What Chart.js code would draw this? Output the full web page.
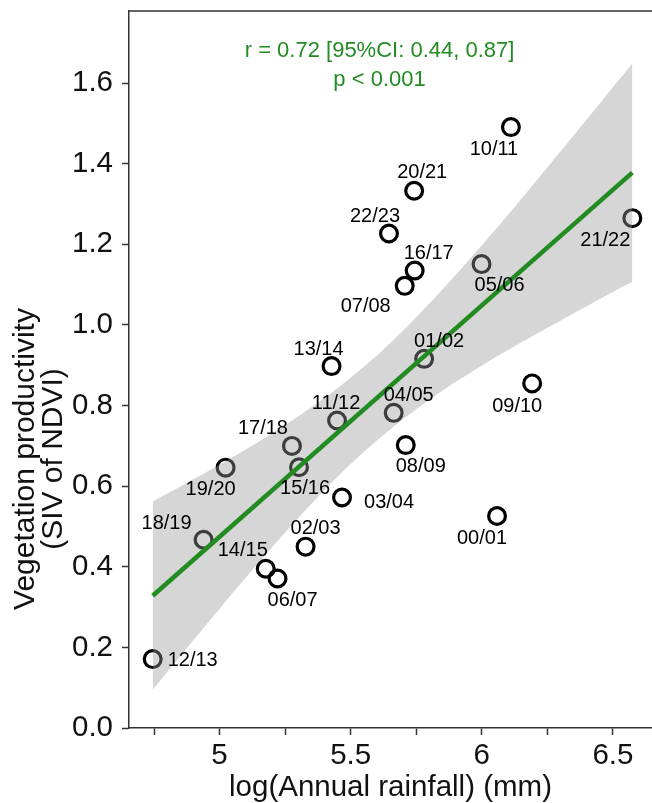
<!DOCTYPE html>
<html>
<head>
<meta charset="utf-8">
<script src="https://cdn.jsdelivr.net/npm/chart.js@4/dist/chart.umd.min.js"></script>
<style>
  html, body { margin: 0; padding: 0; background: #ffffff; }
  canvas { display: block; }
</style>
</head>
<body>
<canvas id="chart" width="652" height="803"></canvas>
<script>
// Seasons and their values
const seasons = ['00/01','01/02','02/03','03/04','04/05','05/06','06/07','07/08','08/09','09/10',
                 '10/11','11/12','12/13','13/14','14/15','15/16','16/17','17/18','18/19','19/20',
                 '20/21','21/22','22/23'];
const logRainfall = [6.058, 5.780, 5.328, 5.467, 5.664, 5.999, 5.221, 5.706, 5.710, 6.192,
                     6.111, 5.448, 4.745, 5.427, 5.176, 5.303, 5.744, 5.276, 4.939, 5.023,
                     5.742, 6.574, 5.646];
const sivNdvi = [0.526, 0.916, 0.450, 0.572, 0.782, 1.151, 0.371, 1.097, 0.702, 0.855,
                 1.491, 0.763, 0.171, 0.898, 0.395, 0.647, 1.135, 0.700, 0.467, 0.646,
                 1.333, 1.265, 1.227];

// Linear fit and its 95% confidence band
const fitX = [4.745, 6.574];
const fitY = [0.328, 1.378];
const bandX = [4.745, 4.875, 5.0, 5.125, 5.25, 5.375, 5.5, 5.625, 5.75, 5.875, 6.0, 6.125, 6.25, 6.375, 6.5, 6.574];
const bandUpper = [0.562, 0.608, 0.653, 0.701, 0.752, 0.807, 0.869, 0.939, 1.019, 1.106, 1.198, 1.293, 1.391, 1.490, 1.590, 1.649];
const bandLower = [0.095, 0.198, 0.296, 0.392, 0.485, 0.573, 0.655, 0.727, 0.791, 0.848, 0.899, 0.947, 0.993, 1.038, 1.082, 1.107];

// Axis ticks
const xTicks = [4.75, 5, 5.25, 5.5, 5.75, 6, 6.25, 6.5];
const xTickLabels = ['', '5', '', '5.5', '', '6', '', '6.5'];
const yTicks = [0, 0.2, 0.4, 0.6, 0.8, 1.0, 1.2, 1.4, 1.6];
const yTickLabels = ['0.0', '0.2', '0.4', '0.6', '0.8', '1.0', '1.2', '1.4', '1.6'];

// Texts
const statLines = ['r = 0.72 [95%CI: 0.44, 0.87]', 'p < 0.001'];
const xTitle = 'log(Annual rainfall) (mm)';
const yTitle = ['Vegetation productivity', '(SIV of NDVI)'];

// Layout settings (pixels / data anchors), kept apart from the values
const labelShift = [[-15,21],[15,-19],[10,-20],[47,3],[15,-19],[18,20],[15,20],[-39,19],[15,20],[-15,21],
                    [-17,21],[-1,-19],[40,0],[-13,-18],[-23,-20],[6,20],[14,-19],[-29,-19],[-37,-18],[-15,20],
                    [8,-20],[-27,21],[-14,-19]];
const statAnchor = { x: 5.61, y: [1.685, 1.613] };
const yTitleCenter = 459;

const fontFamily = "'Liberation Sans', Arial, Helvetica, sans-serif";
const axisInk = '#333333';
const textInk = '#111111';
const fitGreen = '#228B22';

const pointData = seasons.map((s, i) => ({ x: logRainfall[i], y: sivNdvi[i] }));
const lowerData = bandX.map((x, i) => ({ x, y: bandLower[i] }));
const upperData = bandX.map((x, i) => ({ x, y: bandUpper[i] }));
const fitData = fitX.map((x, i) => ({ x, y: fitY[i] }));

// Season labels, statistics text, panel top edge and axis titles
const overlay = {
  id: 'overlay',
  afterDatasetsDraw(chart) {
    const { ctx, scales: { x, y }, chartArea } = chart;
    ctx.save();
    ctx.textAlign = 'center';
    ctx.textBaseline = 'alphabetic';

    ctx.font = `20px ${fontFamily}`;
    ctx.fillStyle = '#000000';
    seasons.forEach((s, i) => {
      const px = x.getPixelForValue(logRainfall[i]) + labelShift[i][0];
      const py = y.getPixelForValue(sivNdvi[i]) + labelShift[i][1];
      ctx.fillText(s, px, py + 0.36 * 20);
    });

    ctx.font = `22px ${fontFamily}`;
    ctx.fillStyle = fitGreen;
    statLines.forEach((t, i) => {
      ctx.fillText(t, x.getPixelForValue(statAnchor.x), y.getPixelForValue(statAnchor.y[i]) + 0.36 * 22);
    });

    ctx.strokeStyle = axisInk;
    ctx.lineWidth = 1.5;
    ctx.beginPath();
    ctx.moveTo(chartArea.left, chartArea.top);
    ctx.lineTo(chartArea.right, chartArea.top);
    ctx.stroke();
    ctx.restore();
  },
  afterDraw(chart) {
    const { ctx, chartArea } = chart;
    ctx.save();
    ctx.fillStyle = textInk;
    ctx.textAlign = 'center';
    ctx.textBaseline = 'alphabetic';
    ctx.font = `29.5px ${fontFamily}`;
    ctx.fillText(xTitle, (chartArea.left + chartArea.right) / 2, 796);

    ctx.font = `30px ${fontFamily}`;
    ctx.translate(0, yTitleCenter);
    ctx.rotate(-Math.PI / 2);
    ctx.fillText(yTitle[0], 0, 34);
    ctx.fillText(yTitle[1], 0, 62);
    ctx.restore();
  }
};

new Chart(document.getElementById('chart'), {
  type: 'scatter',
  data: {
    datasets: [
      {
        type: 'scatter',
        data: pointData,
        order: 3,
        pointStyle: 'circle',
        pointRadius: 8.4,
        pointHoverRadius: 8.4,
        pointBorderWidth: 3.2,
        pointBackgroundColor: 'rgba(0,0,0,0)',
        pointBorderColor: '#000000',
        showLine: false
      },
      {
        type: 'line',
        data: lowerData,
        order: 2,
        borderWidth: 0,
        borderColor: 'rgba(0,0,0,0)',
        pointRadius: 0,
        fill: false,
        tension: 0.3
      },
      {
        type: 'line',
        data: upperData,
        order: 2,
        borderWidth: 0,
        borderColor: 'rgba(0,0,0,0)',
        backgroundColor: 'rgba(153,153,153,0.4)',
        pointRadius: 0,
        fill: '-1',
        tension: 0.3
      },
      {
        type: 'line',
        data: fitData,
        order: 0,
        borderColor: fitGreen,
        borderWidth: 4.6,
        pointRadius: 0,
        fill: false
      }
    ]
  },
  options: {
    responsive: false,
    animation: false,
    events: [],
    layout: { autoPadding: false, padding: { top: 11, right: 0, left: 0, bottom: 0 } },
    plugins: { legend: { display: false }, tooltip: { enabled: false } },
    scales: {
      x: {
        type: 'linear',
        min: 4.6546,
        max: 6.649,
        afterBuildTicks(scale) { scale.ticks = xTicks.map(v => ({ value: v })); },
        afterFit(scale) { scale.height = 75; scale.paddingLeft = 0; scale.paddingRight = 0; },
        ticks: {
          autoSkip: false,
          maxRotation: 0,
          padding: 3,
          color: textInk,
          font: { family: fontFamily, size: 29.5 },
          callback: (v, i) => xTickLabels[i]
        },
        grid: { drawOnChartArea: false, drawTicks: true, tickLength: 7, tickColor: axisInk, tickWidth: 1.5 },
        border: { display: true, color: axisInk, width: 1.5 }
      },
      y: {
        type: 'linear',
        min: 0,
        max: 1.779,
        afterBuildTicks(scale) { scale.ticks = yTicks.map(v => ({ value: v })); },
        afterFit(scale) { scale.width = 129; scale.paddingTop = 0; scale.paddingBottom = 0; },
        ticks: {
          autoSkip: false,
          padding: 9,
          color: textInk,
          font: { family: fontFamily, size: 29.5 },
          callback: (v, i) => yTickLabels[i]
        },
        grid: { drawOnChartArea: false, drawTicks: true, tickLength: 7, tickColor: axisInk, tickWidth: 1.5 },
        border: { display: true, color: axisInk, width: 1.5 }
      }
    }
  },
  plugins: [overlay]
});
</script>
</body>
</html>
